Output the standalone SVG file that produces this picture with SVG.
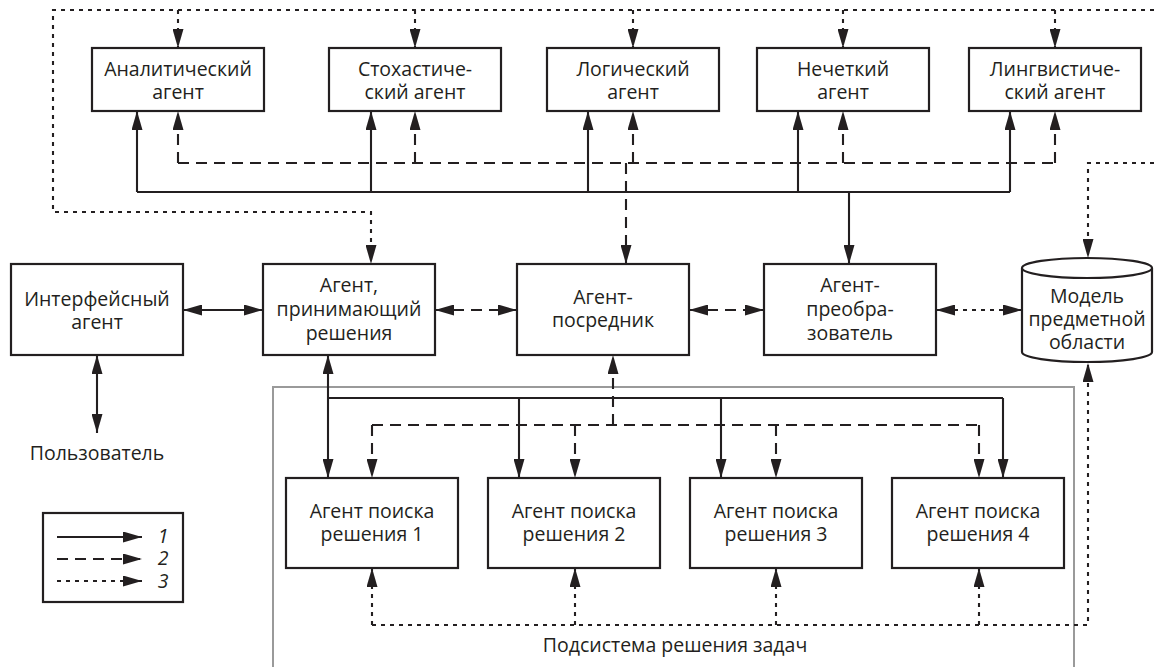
<svg xmlns="http://www.w3.org/2000/svg" width="1154" height="667" viewBox="0 0 1154 667">
<defs>
<marker id="ah" markerUnits="userSpaceOnUse" markerWidth="19" markerHeight="11" refX="19" refY="5.5" orient="auto-start-reverse">
<path d="M0,0 L19,5.5 L0,11 z" fill="#231f20"/>
</marker>
</defs>
<style>
.box{fill:#fff;stroke:#231f20;stroke-width:2.2}
.lbl{font-family:"Open Sans","Liberation Sans",sans-serif;font-size:19.5px;fill:#231f20;text-anchor:middle}
.s,.d,.t{fill:none;stroke:#231f20;stroke-width:2.1}
.d{stroke-dasharray:11 7}
.t{stroke-dasharray:4 5}
.ae{marker-end:url(#ah)}
.ab{marker-start:url(#ah);marker-end:url(#ah)}
.it{font-style:italic;font-family:"Open Sans","Liberation Sans",sans-serif;font-size:19.5px;fill:#231f20;text-anchor:middle}
</style>
<rect id="subsystem" x="273" y="387" width="801" height="320" fill="none" stroke="#9a9a9a" stroke-width="2"/>
<g id="connectors">
<path class="s" d="M137,192 H1010"/>
<path class="s ae" d="M137,192 V111"/>
<path class="s ae" d="M371,192 V111"/>
<path class="s ae" d="M588,192 V111"/>
<path class="s ae" d="M798,192 V111"/>
<path class="s ae" d="M1010,192 V111"/>
<path class="s ae" d="M849,192 V264"/>
<path class="s ab" d="M183,310 H263"/>
<path class="s ab" d="M97,355 V433"/>
<path class="s ab" d="M328,355 V478"/>
<path class="s" d="M328,398 H1003"/>
<path class="s ae" d="M519,398 V478"/>
<path class="s ae" d="M721,398 V478"/>
<path class="s ae" d="M1003,398 V478"/>
<path class="d" d="M178,163 H1055"/>
<path class="d ae" d="M178,163 V111"/>
<path class="d ae" d="M415,163 V111"/>
<path class="d ae" d="M633,163 V111"/>
<path class="d ae" d="M843,163 V111"/>
<path class="d ae" d="M1055,163 V111"/>
<path class="d ae" d="M626,163 V264"/>
<path class="d ab" d="M435,310 H517"/>
<path class="d ab" d="M689,310 H764"/>
<path class="d ae" d="M613,425 V355"/>
<path class="d" d="M372,425 H979"/>
<path class="d ae" d="M372,425 V478"/>
<path class="d ae" d="M575,425 V478"/>
<path class="d ae" d="M776,425 V478"/>
<path class="d ae" d="M979,425 V478"/>
<path class="t ae" d="M1154,10 H53 V212 H371 V264"/>
<path class="t ae" d="M178,10 V48"/>
<path class="t ae" d="M415,10 V48"/>
<path class="t ae" d="M633,10 V48"/>
<path class="t ae" d="M843,10 V48"/>
<path class="t ae" d="M1055,10 V48"/>
<path class="t ae" d="M1154,163 H1088 V258"/>
<path class="t ab" d="M936,310 H1022"/>
<path class="t ae" d="M372,625 H1088 V363"/>
<path class="t ae" d="M372,625 V568"/>
<path class="t ae" d="M575,625 V568"/>
<path class="t ae" d="M776,625 V568"/>
<path class="t ae" d="M979,625 V568"/>
</g>
<g id="analytic"><rect class="box" x="92" y="48" width="172" height="63"/><text class="lbl" x="178" y="76">Аналитический<tspan x="178" dy="23">агент</tspan></text></g>
<g id="stochastic"><rect class="box" x="329" y="48" width="172" height="63"/><text class="lbl" x="415" y="76">Стохастиче-<tspan x="415" dy="23">ский агент</tspan></text></g>
<g id="logical"><rect class="box" x="547" y="48" width="172" height="63"/><text class="lbl" x="633" y="76">Логический<tspan x="633" dy="23">агент</tspan></text></g>
<g id="fuzzy"><rect class="box" x="757" y="48" width="172" height="63"/><text class="lbl" x="843" y="76">Нечеткий<tspan x="843" dy="23">агент</tspan></text></g>
<g id="linguistic"><rect class="box" x="969" y="48" width="172" height="63"/><text class="lbl" x="1055" y="76">Лингвистиче-<tspan x="1055" dy="23">ский агент</tspan></text></g>
<g id="interface"><rect class="box" x="11" y="264" width="172" height="91"/><text class="lbl" x="97" y="306">Интерфейсный<tspan x="97" dy="23">агент</tspan></text></g>
<g id="decision"><rect class="box" x="263" y="264" width="172" height="91"/><text class="lbl" x="349" y="292">Агент,<tspan x="349" dy="24">принимающий</tspan><tspan x="349" dy="24">решения</tspan></text></g>
<g id="mediator"><rect class="box" x="517" y="264" width="172" height="91"/><text class="lbl" x="603" y="304">Агент-<tspan x="603" dy="23">посредник</tspan></text></g>
<g id="transformer"><rect class="box" x="764" y="264" width="172" height="91"/><text class="lbl" x="850" y="292">Агент-<tspan x="850" dy="24">преобра-</tspan><tspan x="850" dy="24">зователь</tspan></text></g>
<g id="model">
<path d="M1022,268 V352 A65,10 0 0 0 1152,352 V268" fill="#fff" stroke="#231f20" stroke-width="2.2"/>
<ellipse cx="1087" cy="268" rx="65" ry="10" fill="#fff" stroke="#231f20" stroke-width="2.2"/>
<text class="lbl" x="1087" y="303">Модель<tspan x="1087" dy="23">предметной</tspan><tspan x="1087" dy="23">области</tspan></text>
</g>
<g id="user"><text class="lbl" x="97" y="460">Пользователь</text></g>
<g id="search1"><rect class="box" x="286" y="478" width="172" height="90"/><text class="lbl" x="372" y="518">Агент поиска<tspan x="372" dy="23">решения 1</tspan></text></g>
<g id="search2"><rect class="box" x="488" y="478" width="172" height="90"/><text class="lbl" x="574" y="518">Агент поиска<tspan x="574" dy="23">решения 2</tspan></text></g>
<g id="search3"><rect class="box" x="690" y="478" width="172" height="90"/><text class="lbl" x="776" y="518">Агент поиска<tspan x="776" dy="23">решения 3</tspan></text></g>
<g id="search4"><rect class="box" x="892" y="478" width="172" height="90"/><text class="lbl" x="978" y="518">Агент поиска<tspan x="978" dy="23">решения 4</tspan></text></g>
<g id="subsystem-label"><text class="lbl" x="675" y="652">Подсистема решения задач</text></g>
<g id="legend">
<rect class="box" x="43" y="513" width="140" height="89"/>
<path class="s ae" d="M57,537 H142"/>
<path class="d ae" d="M57,559 H142"/>
<path class="t ae" d="M57,581 H142"/>
<text class="it" x="163" y="543">1<tspan x="163" dy="22">2</tspan><tspan x="163" dy="23">3</tspan></text>
</g>
</svg>
